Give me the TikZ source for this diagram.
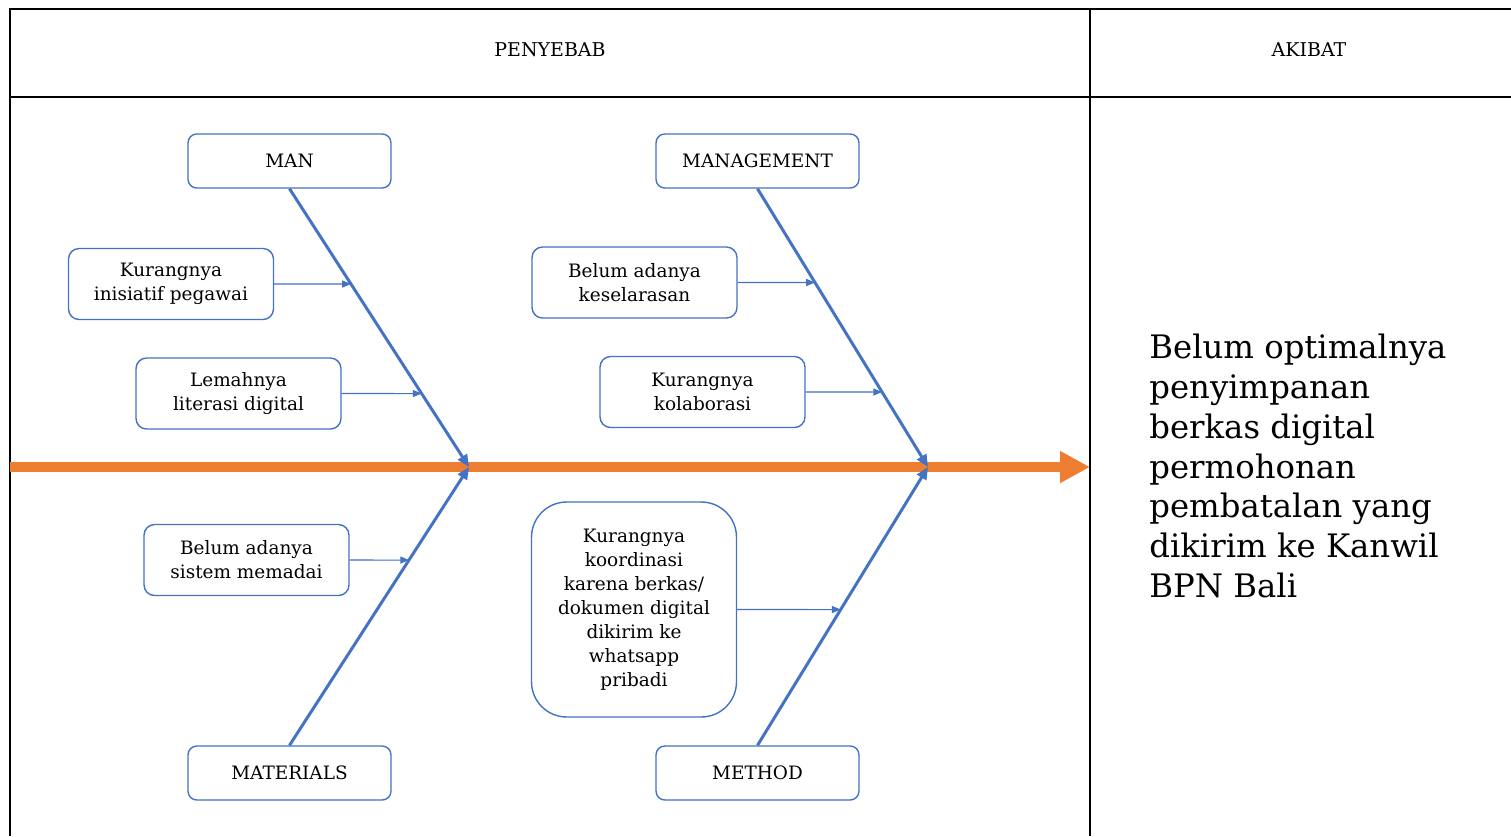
\documentclass[tikz,border=0pt]{standalone}
\usepackage{fontspec}
\setmainfont{DejaVu Serif}
\usetikzlibrary{arrows.meta}
\definecolor{bone}{HTML}{4472C4}
\definecolor{spine}{HTML}{ED7D31}

\begin{document}
\begin{tikzpicture}[x=0.02cm, y=-0.02cm,
    catbox/.style={draw=bone, line width=0.8pt, rounded corners=5pt,
      minimum width=4.06cm, minimum height=1.08cm, font=\fontsize{10.5}{13.6}\selectfont},
    causebox/.style={draw=bone, line width=0.8pt, rounded corners=6pt,
      minimum width=4.1cm, minimum height=1.42cm, align=center, inner sep=2pt,
      font=\fontsize{10.5}{13.6}\selectfont},
    bonearrow/.style={bone, line width=1.7pt, -{Triangle[length=7pt,width=6pt]}},
    causearrow/.style={bone, line width=0.6pt, -{Triangle[length=5pt,width=4pt]}},
    spinearrow/.style={spine, line width=5.7pt, -{Triangle[length=17pt,width=17pt]}}]
  \useasboundingbox (0,0) rectangle (1511,836);

  % table
  \draw[line width=0.9pt] (10,836) -- (10,9) -- (1511,9);
  \draw[line width=1.1pt] (10,97) -- (1511,97);
  \draw[line width=0.9pt] (1090,9) -- (1090,836);
  \node[font=\fontsize{10.8}{12}\selectfont] (penyebab) at (550,50) {PENYEBAB};
  \node[font=\fontsize{10.8}{12}\selectfont] (akibat) at (1309,50) {AKIBAT};

  % spine
  \coordinate (tail) at (10,467);
  \coordinate (head) at (1090,467);
  \coordinate (j1) at (469,467);
  \coordinate (j2) at (928,467);
  \draw[spinearrow] (tail) -- (head);

  % categories
  \node[catbox] (man) at (289.5,161) {MAN};
  \node[catbox] (mgmt) at (757.5,161) {MANAGEMENT};
  \node[catbox] (mat) at (289.5,773) {MATERIALS};
  \node[catbox] (meth) at (757.5,773) {METHOD};
  \draw[bonearrow] (man.south) -- (j1);
  \draw[bonearrow] (mat.north) -- (j1);
  \draw[bonearrow] (mgmt.south) -- (j2);
  \draw[bonearrow] (meth.north) -- (j2);

  % causes
  \node[causebox] (c1) at (171,284) {Kurangnya\\inisiatif pegawai};
  \node[causebox] (c2) at (238.5,393.5) {Lemahnya\\literasi digital};
  \node[causebox] (c3) at (634.5,282.5) {Belum adanya\\keselarasan};
  \node[causebox] (c4) at (702.5,392) {Kurangnya\\kolaborasi};
  \node[causebox] (c5) at (246.5,560) {Belum adanya\\sistem memadai};
  \node[causebox, rounded corners=20pt, minimum height=4.3cm] (c6) at (634,609.5)
    {Kurangnya\\koordinasi\\karena berkas/\\dokumen digital\\dikirim ke\\whatsapp\\pribadi};

  \draw[causearrow] (c1.east) -- (intersection cs: first line={(man.south)--(j1)}, second line={(c1.east)--([xshift=1cm]c1.east)});
  \draw[causearrow] (c2.east) -- (intersection cs: first line={(man.south)--(j1)}, second line={(c2.east)--([xshift=1cm]c2.east)});
  \draw[causearrow] (c3.east) -- (intersection cs: first line={(mgmt.south)--(j2)}, second line={(c3.east)--([xshift=1cm]c3.east)});
  \draw[causearrow] (c4.east) -- (intersection cs: first line={(mgmt.south)--(j2)}, second line={(c4.east)--([xshift=1cm]c4.east)});
  \draw[causearrow] (c5.east) -- (intersection cs: first line={(mat.north)--(j1)}, second line={(c5.east)--([xshift=1cm]c5.east)});
  \draw[causearrow] (c6.east) -- (intersection cs: first line={(meth.north)--(j2)}, second line={(c6.east)--([xshift=1cm]c6.east)});

  % effect
  \node[anchor=west, align=left, inner sep=0pt, font=\fontsize{18.4}{22.7}\selectfont] (effect) at (1149,466)
    {Belum optimalnya\\penyimpanan\\berkas digital\\permohonan\\pembatalan yang\\dikirim ke Kanwil\\BPN Bali};
\end{tikzpicture}
\end{document}
